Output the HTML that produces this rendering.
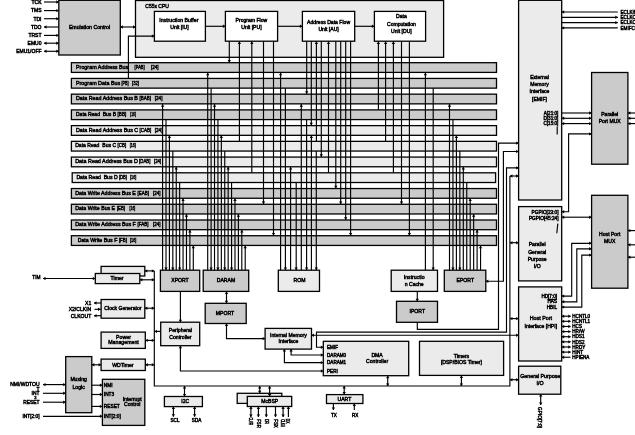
<!DOCTYPE html>
<html><head><meta charset="utf-8"><title>C55x DSP block diagram</title>
<style>
html,body{margin:0;padding:0;background:#fff;}
body{width:635px;height:435px;overflow:hidden;}
svg{display:block;will-change:transform;opacity:0.999;font-family:"Liberation Sans",sans-serif;fill:#000;}
svg text{stroke:#000;stroke-width:0.45px;}
</style></head><body>
<svg width="635" height="435" viewBox="0 0 635 435">
<rect x="0" y="0" width="635" height="435" fill="#fff" stroke="none"/>
<rect x="135.50" y="0.50" width="308.10" height="56.80" fill="#ebebeb" stroke="#000" stroke-width="1.3"/>
<rect x="71.40" y="62.70" width="425.10" height="9.70" fill="#cbcbcb" stroke="#000" stroke-width="1.3"/>
<text x="76.00" y="68.81" font-size="5.3" textLength="52.30" lengthAdjust="spacingAndGlyphs" xml:space="preserve">Program Address Bus</text>
<text x="134.60" y="68.81" font-size="5.3" textLength="10.10" lengthAdjust="spacingAndGlyphs" xml:space="preserve">[PAB]</text>
<text x="151.00" y="68.81" font-size="5.3" textLength="7.60" lengthAdjust="spacingAndGlyphs" xml:space="preserve">[24]</text>
<rect x="71.40" y="78.43" width="425.10" height="9.70" fill="#cbcbcb" stroke="#000" stroke-width="1.3"/>
<text x="76.00" y="84.54" font-size="5.3" textLength="44.20" lengthAdjust="spacingAndGlyphs" xml:space="preserve">Program Data Bus</text>
<text x="121.40" y="84.54" font-size="5.3" textLength="7.10" lengthAdjust="spacingAndGlyphs" xml:space="preserve">[PB]</text>
<text x="132.00" y="84.54" font-size="5.3" textLength="6.90" lengthAdjust="spacingAndGlyphs" xml:space="preserve">[32]</text>
<rect x="71.40" y="94.16" width="425.10" height="9.70" fill="#cbcbcb" stroke="#000" stroke-width="1.3"/>
<text x="76.00" y="100.27" font-size="5.3" textLength="61.90" lengthAdjust="spacingAndGlyphs" xml:space="preserve">Data Read Address Bus B</text>
<text x="139.60" y="100.27" font-size="5.3" textLength="11.40" lengthAdjust="spacingAndGlyphs" xml:space="preserve">[BAB]</text>
<text x="154.80" y="100.27" font-size="5.3" textLength="7.60" lengthAdjust="spacingAndGlyphs" xml:space="preserve">[24]</text>
<rect x="71.40" y="109.89" width="425.10" height="9.70" fill="#cbcbcb" stroke="#000" stroke-width="1.3"/>
<text x="76.00" y="116.00" font-size="5.3" textLength="40.10" lengthAdjust="spacingAndGlyphs" xml:space="preserve">Data Read  Bus B</text>
<text x="117.60" y="116.00" font-size="5.3" textLength="8.60" lengthAdjust="spacingAndGlyphs" xml:space="preserve">[BB]</text>
<text x="130.30" y="116.00" font-size="5.3" textLength="5.50" lengthAdjust="spacingAndGlyphs" xml:space="preserve">[16]</text>
<rect x="71.40" y="125.62" width="425.10" height="9.70" fill="#ebebeb" stroke="#000" stroke-width="1.3"/>
<text x="76.00" y="131.73" font-size="5.3" textLength="62.20" lengthAdjust="spacingAndGlyphs" xml:space="preserve">Data Read Address Bus C</text>
<text x="139.60" y="131.73" font-size="5.3" textLength="11.70" lengthAdjust="spacingAndGlyphs" xml:space="preserve">[CAB]</text>
<text x="154.80" y="131.73" font-size="5.3" textLength="7.60" lengthAdjust="spacingAndGlyphs" xml:space="preserve">[24]</text>
<rect x="71.40" y="141.35" width="425.10" height="9.70" fill="#ebebeb" stroke="#000" stroke-width="1.3"/>
<text x="75.20" y="147.46" font-size="5.3" textLength="40.90" lengthAdjust="spacingAndGlyphs" xml:space="preserve">Data Read  Bus C</text>
<text x="117.60" y="147.46" font-size="5.3" textLength="8.60" lengthAdjust="spacingAndGlyphs" xml:space="preserve">[CB]</text>
<text x="129.70" y="147.46" font-size="5.3" textLength="6.10" lengthAdjust="spacingAndGlyphs" xml:space="preserve">[16]</text>
<rect x="71.40" y="157.08" width="425.10" height="9.70" fill="#ebebeb" stroke="#000" stroke-width="1.3"/>
<text x="75.20" y="163.19" font-size="5.3" textLength="62.70" lengthAdjust="spacingAndGlyphs" xml:space="preserve">Data Read Address Bus D</text>
<text x="139.10" y="163.19" font-size="5.3" textLength="11.40" lengthAdjust="spacingAndGlyphs" xml:space="preserve">[DAB]</text>
<text x="154.00" y="163.19" font-size="5.3" textLength="7.10" lengthAdjust="spacingAndGlyphs" xml:space="preserve">[24]</text>
<rect x="72.20" y="172.81" width="423.40" height="9.70" fill="#ebebeb" stroke="#000" stroke-width="1.3"/>
<text x="76.40" y="178.92" font-size="5.3" textLength="41.20" lengthAdjust="spacingAndGlyphs" xml:space="preserve">Data Read  Bus D</text>
<text x="118.90" y="178.92" font-size="5.3" textLength="8.10" lengthAdjust="spacingAndGlyphs" xml:space="preserve">[DB]</text>
<text x="130.00" y="178.92" font-size="5.3" textLength="6.30" lengthAdjust="spacingAndGlyphs" xml:space="preserve">[16]</text>
<rect x="71.40" y="188.54" width="425.10" height="9.70" fill="#cbcbcb" stroke="#000" stroke-width="1.3"/>
<text x="75.20" y="194.65" font-size="5.3" textLength="60.60" lengthAdjust="spacingAndGlyphs" xml:space="preserve">Data Write Address Bus E</text>
<text x="137.60" y="194.65" font-size="5.3" textLength="11.40" lengthAdjust="spacingAndGlyphs" xml:space="preserve">[EAB]</text>
<text x="153.00" y="194.65" font-size="5.3" textLength="7.40" lengthAdjust="spacingAndGlyphs" xml:space="preserve">[24]</text>
<rect x="71.40" y="204.27" width="425.10" height="9.70" fill="#cbcbcb" stroke="#000" stroke-width="1.3"/>
<text x="75.20" y="210.38" font-size="5.3" textLength="39.90" lengthAdjust="spacingAndGlyphs" xml:space="preserve">Data Write Bus E</text>
<text x="116.90" y="210.38" font-size="5.3" textLength="8.10" lengthAdjust="spacingAndGlyphs" xml:space="preserve">[EB]</text>
<text x="129.50" y="210.38" font-size="5.3" textLength="5.80" lengthAdjust="spacingAndGlyphs" xml:space="preserve">[16]</text>
<rect x="71.40" y="220.00" width="425.10" height="9.70" fill="#cbcbcb" stroke="#000" stroke-width="1.3"/>
<text x="75.20" y="226.11" font-size="5.3" textLength="60.60" lengthAdjust="spacingAndGlyphs" xml:space="preserve">Data Write Address Bus F</text>
<text x="137.60" y="226.11" font-size="5.3" textLength="11.00" lengthAdjust="spacingAndGlyphs" xml:space="preserve">[FAB]</text>
<text x="153.00" y="226.11" font-size="5.3" textLength="7.40" lengthAdjust="spacingAndGlyphs" xml:space="preserve">[24]</text>
<rect x="71.40" y="235.73" width="425.10" height="9.70" fill="#cbcbcb" stroke="#000" stroke-width="1.3"/>
<text x="77.70" y="241.84" font-size="5.3" textLength="39.70" lengthAdjust="spacingAndGlyphs" xml:space="preserve">Data Write Bus F</text>
<text x="118.90" y="241.84" font-size="5.3" textLength="8.10" lengthAdjust="spacingAndGlyphs" xml:space="preserve">[FB]</text>
<text x="130.00" y="241.84" font-size="5.3" textLength="6.30" lengthAdjust="spacingAndGlyphs" xml:space="preserve">[16]</text>
<rect x="58.80" y="0.30" width="61.50" height="54.70" fill="#cbcbcb" stroke="#000" stroke-width="1.3"/>
<text x="89.50" y="28.87" font-size="5.2" text-anchor="middle">Emulation Control</text>
<text x="41.50" y="3.80" font-size="5.0" text-anchor="end">TCK</text>
<polyline points="44.00,2.00 58.80,2.00" fill="none" stroke="#000" stroke-width="1.15"/>
<polygon points="58.80,2.00 56.30,0.30 56.30,3.70" fill="#000"/>
<text x="41.50" y="12.40" font-size="5.0" text-anchor="end">TMS</text>
<polyline points="44.00,10.60 58.80,10.60" fill="none" stroke="#000" stroke-width="1.15"/>
<polygon points="58.80,10.60 56.30,8.90 56.30,12.30" fill="#000"/>
<text x="41.50" y="20.50" font-size="5.0" text-anchor="end">TDI</text>
<polyline points="44.00,18.70 58.80,18.70" fill="none" stroke="#000" stroke-width="1.15"/>
<polygon points="58.80,18.70 56.30,17.00 56.30,20.40" fill="#000"/>
<text x="41.50" y="28.80" font-size="5.0" text-anchor="end">TDO</text>
<polyline points="44.00,27.00 58.80,27.00" fill="none" stroke="#000" stroke-width="1.15"/>
<polygon points="44.00,27.00 46.50,25.30 46.50,28.70" fill="#000"/>
<text x="41.50" y="37.20" font-size="5.0" text-anchor="end">TRST</text>
<polyline points="44.00,35.40 58.80,35.40" fill="none" stroke="#000" stroke-width="1.15"/>
<polygon points="58.80,35.40 56.30,33.70 56.30,37.10" fill="#000"/>
<text x="41.50" y="45.00" font-size="5.0" text-anchor="end">EMU0</text>
<polyline points="44.00,43.20 58.80,43.20" fill="none" stroke="#000" stroke-width="1.15"/>
<polygon points="58.80,43.20 56.30,41.50 56.30,44.90" fill="#000"/>
<polygon points="44.00,43.20 46.50,41.50 46.50,44.90" fill="#000"/>
<text x="41.50" y="53.10" font-size="5.0" text-anchor="end">EMU1/OFF</text>
<polyline points="44.00,51.30 58.80,51.30" fill="none" stroke="#000" stroke-width="1.15"/>
<polygon points="58.80,51.30 56.30,49.60 56.30,53.00" fill="#000"/>
<polygon points="44.00,51.30 46.50,49.60 46.50,53.00" fill="#000"/>
<polyline points="120.30,27.00 135.50,27.00" fill="none" stroke="#000" stroke-width="1.15"/>
<polygon points="135.50,27.00 133.00,25.30 133.00,28.70" fill="#000"/>
<polygon points="120.30,27.00 122.80,25.30 122.80,28.70" fill="#000"/>
<text x="145.30" y="7.60" font-size="5.0" text-anchor="start">C55x CPU</text>
<rect x="154.40" y="11.40" width="51.00" height="29.80" fill="#ffffff" stroke="#000" stroke-width="1.3"/>
<text x="178.80" y="21.77" font-size="5.2" text-anchor="middle">Instruction Buffer</text>
<text x="179.50" y="29.14" font-size="5.1" text-anchor="middle">Unit [IU]</text>
<rect x="225.40" y="11.40" width="52.20" height="29.80" fill="#ffffff" stroke="#000" stroke-width="1.3"/>
<text x="251.40" y="21.74" font-size="5.1" text-anchor="middle">Program Flow</text>
<text x="251.40" y="29.44" font-size="5.1" text-anchor="middle">Unit [PU]</text>
<rect x="302.40" y="11.40" width="52.30" height="29.80" fill="#ffffff" stroke="#000" stroke-width="1.3"/>
<text x="328.60" y="23.84" font-size="5.1" text-anchor="middle">Address Data Flow</text>
<text x="328.60" y="31.44" font-size="5.1" text-anchor="middle">Unit [AU]</text>
<rect x="374.40" y="11.40" width="51.20" height="29.80" fill="#ffffff" stroke="#000" stroke-width="1.3"/>
<text x="401.40" y="17.74" font-size="5.1" text-anchor="middle">Data</text>
<text x="401.40" y="25.84" font-size="5.1" text-anchor="middle">Computation</text>
<text x="401.40" y="32.94" font-size="5.1" text-anchor="middle">Unit [DU]</text>
<polyline points="205.40,26.30 225.40,26.30" fill="none" stroke="#000" stroke-width="1.15"/>
<polygon points="225.40,26.30 222.90,24.60 222.90,28.00" fill="#000"/>
<polyline points="277.60,26.30 302.40,26.30" fill="none" stroke="#000" stroke-width="1.15"/>
<polygon points="302.40,26.30 299.90,24.60 299.90,28.00" fill="#000"/>
<polyline points="354.70,26.30 374.40,26.30" fill="none" stroke="#000" stroke-width="1.15"/>
<polygon points="374.40,26.30 371.90,24.60 371.90,28.00" fill="#000"/>
<polyline points="128.40,78.43 128.40,36.10 154.40,36.10" fill="none" stroke="#000" stroke-width="1.15"/>
<polygon points="154.40,36.10 151.90,34.40 151.90,37.80" fill="#000"/>
<polyline points="229.30,41.20 229.30,62.70" fill="none" stroke="#000" stroke-width="1.15"/>
<polygon points="229.30,62.40 227.60,59.90 231.00,59.90" fill="#000"/>
<polyline points="239.40,41.20 239.40,141.35" fill="none" stroke="#000" stroke-width="1.15"/>
<polygon points="239.40,41.50 237.70,44.00 241.10,44.00" fill="#000"/>
<polyline points="251.80,41.20 251.80,172.81" fill="none" stroke="#000" stroke-width="1.15"/>
<polygon points="251.80,41.50 250.10,44.00 253.50,44.00" fill="#000"/>
<polyline points="263.50,41.20 263.50,204.27" fill="none" stroke="#000" stroke-width="1.15"/>
<polygon points="263.50,203.97 261.80,201.47 265.20,201.47" fill="#000"/>
<polyline points="273.50,41.20 273.50,235.73" fill="none" stroke="#000" stroke-width="1.15"/>
<polygon points="273.50,235.43 271.80,232.93 275.20,232.93" fill="#000"/>
<polyline points="306.70,41.20 306.70,94.16" fill="none" stroke="#000" stroke-width="1.15"/>
<polygon points="306.70,93.86 305.00,91.36 308.40,91.36" fill="#000"/>
<polyline points="311.30,41.20 311.30,125.62" fill="none" stroke="#000" stroke-width="1.15"/>
<polygon points="311.30,125.32 309.60,122.82 313.00,122.82" fill="#000"/>
<polyline points="316.40,41.20 316.40,141.35" fill="none" stroke="#000" stroke-width="1.15"/>
<polygon points="316.40,41.50 314.70,44.00 318.10,44.00" fill="#000"/>
<polyline points="321.30,41.20 321.30,157.08" fill="none" stroke="#000" stroke-width="1.15"/>
<polygon points="321.30,156.78 319.60,154.28 323.00,154.28" fill="#000"/>
<polyline points="328.50,41.20 328.50,172.81" fill="none" stroke="#000" stroke-width="1.15"/>
<polygon points="328.50,41.50 326.80,44.00 330.20,44.00" fill="#000"/>
<polyline points="335.80,41.20 335.80,188.54" fill="none" stroke="#000" stroke-width="1.15"/>
<polygon points="335.80,188.24 334.10,185.74 337.50,185.74" fill="#000"/>
<polyline points="340.70,41.20 340.70,204.27" fill="none" stroke="#000" stroke-width="1.15"/>
<polygon points="340.70,203.97 339.00,201.47 342.40,201.47" fill="#000"/>
<polyline points="345.70,41.20 345.70,220.00" fill="none" stroke="#000" stroke-width="1.15"/>
<polygon points="345.70,219.70 344.00,217.20 347.40,217.20" fill="#000"/>
<polyline points="350.60,41.20 350.60,235.73" fill="none" stroke="#000" stroke-width="1.15"/>
<polygon points="350.60,235.43 348.90,232.93 352.30,232.93" fill="#000"/>
<polyline points="378.40,41.20 378.40,109.89" fill="none" stroke="#000" stroke-width="1.15"/>
<polygon points="378.40,41.50 376.70,44.00 380.10,44.00" fill="#000"/>
<polyline points="385.60,41.20 385.60,141.35" fill="none" stroke="#000" stroke-width="1.15"/>
<polygon points="385.60,41.50 383.90,44.00 387.30,44.00" fill="#000"/>
<polyline points="393.40,41.20 393.40,172.81" fill="none" stroke="#000" stroke-width="1.15"/>
<polygon points="393.40,41.50 391.70,44.00 395.10,44.00" fill="#000"/>
<polyline points="401.50,41.20 401.50,204.27" fill="none" stroke="#000" stroke-width="1.15"/>
<polygon points="401.50,203.97 399.80,201.47 403.20,201.47" fill="#000"/>
<polyline points="409.40,41.20 409.40,235.73" fill="none" stroke="#000" stroke-width="1.15"/>
<polygon points="409.40,235.43 407.70,232.93 411.10,232.93" fill="#000"/>
<polyline points="162.60,270.20 162.60,103.86" fill="none" stroke="#000" stroke-width="1.15"/>
<polygon points="162.60,104.16 160.90,106.66 164.30,106.66" fill="#000"/>
<polyline points="166.01,270.20 166.01,119.59" fill="none" stroke="#000" stroke-width="1.15"/>
<polygon points="166.01,269.90 164.31,267.40 167.71,267.40" fill="#000"/>
<polyline points="169.42,270.20 169.42,135.32" fill="none" stroke="#000" stroke-width="1.15"/>
<polygon points="169.42,135.62 167.72,138.12 171.12,138.12" fill="#000"/>
<polyline points="172.83,270.20 172.83,151.05" fill="none" stroke="#000" stroke-width="1.15"/>
<polygon points="172.83,269.90 171.13,267.40 174.53,267.40" fill="#000"/>
<polyline points="176.24,270.20 176.24,166.78" fill="none" stroke="#000" stroke-width="1.15"/>
<polygon points="176.24,167.08 174.54,169.58 177.94,169.58" fill="#000"/>
<polyline points="179.65,270.20 179.65,182.51" fill="none" stroke="#000" stroke-width="1.15"/>
<polygon points="179.65,269.90 177.95,267.40 181.35,267.40" fill="#000"/>
<polyline points="183.06,270.20 183.06,198.24" fill="none" stroke="#000" stroke-width="1.15"/>
<polygon points="183.06,198.54 181.36,201.04 184.76,201.04" fill="#000"/>
<polyline points="186.47,270.20 186.47,213.97" fill="none" stroke="#000" stroke-width="1.15"/>
<polygon points="186.47,214.27 184.77,216.77 188.17,216.77" fill="#000"/>
<polyline points="189.88,270.20 189.88,229.70" fill="none" stroke="#000" stroke-width="1.15"/>
<polygon points="189.88,230.00 188.18,232.50 191.58,232.50" fill="#000"/>
<polyline points="193.29,270.20 193.29,245.43" fill="none" stroke="#000" stroke-width="1.15"/>
<polygon points="193.29,245.73 191.59,248.23 194.99,248.23" fill="#000"/>
<polyline points="207.70,270.20 207.70,72.40" fill="none" stroke="#000" stroke-width="1.15"/>
<polygon points="207.70,72.70 206.00,75.20 209.40,75.20" fill="#000"/>
<polyline points="211.11,270.20 211.11,88.13" fill="none" stroke="#000" stroke-width="1.15"/>
<polygon points="211.11,269.90 209.41,267.40 212.81,267.40" fill="#000"/>
<polyline points="214.52,270.20 214.52,103.86" fill="none" stroke="#000" stroke-width="1.15"/>
<polygon points="214.52,104.16 212.82,106.66 216.22,106.66" fill="#000"/>
<polyline points="217.93,270.20 217.93,119.59" fill="none" stroke="#000" stroke-width="1.15"/>
<polygon points="217.93,269.90 216.23,267.40 219.63,267.40" fill="#000"/>
<polyline points="221.34,270.20 221.34,135.32" fill="none" stroke="#000" stroke-width="1.15"/>
<polygon points="221.34,135.62 219.64,138.12 223.04,138.12" fill="#000"/>
<polyline points="224.75,270.20 224.75,151.05" fill="none" stroke="#000" stroke-width="1.15"/>
<polygon points="224.75,269.90 223.05,267.40 226.45,267.40" fill="#000"/>
<polyline points="228.16,270.20 228.16,166.78" fill="none" stroke="#000" stroke-width="1.15"/>
<polygon points="228.16,167.08 226.46,169.58 229.86,169.58" fill="#000"/>
<polyline points="231.57,270.20 231.57,182.51" fill="none" stroke="#000" stroke-width="1.15"/>
<polygon points="231.57,269.90 229.87,267.40 233.27,267.40" fill="#000"/>
<polyline points="234.98,270.20 234.98,198.24" fill="none" stroke="#000" stroke-width="1.15"/>
<polygon points="234.98,198.54 233.28,201.04 236.68,201.04" fill="#000"/>
<polyline points="238.39,270.20 238.39,213.97" fill="none" stroke="#000" stroke-width="1.15"/>
<polygon points="238.39,214.27 236.69,216.77 240.09,216.77" fill="#000"/>
<polyline points="241.80,270.20 241.80,229.70" fill="none" stroke="#000" stroke-width="1.15"/>
<polygon points="241.80,230.00 240.10,232.50 243.50,232.50" fill="#000"/>
<polyline points="245.21,270.20 245.21,245.43" fill="none" stroke="#000" stroke-width="1.15"/>
<polygon points="245.21,245.73 243.51,248.23 246.91,248.23" fill="#000"/>
<polyline points="280.60,270.20 280.60,72.40" fill="none" stroke="#000" stroke-width="1.15"/>
<polygon points="280.60,72.70 278.90,75.20 282.30,75.20" fill="#000"/>
<polyline points="285.40,270.20 285.40,88.13" fill="none" stroke="#000" stroke-width="1.15"/>
<polygon points="285.40,269.90 283.70,267.40 287.10,267.40" fill="#000"/>
<polyline points="290.60,270.20 290.60,166.78" fill="none" stroke="#000" stroke-width="1.15"/>
<polygon points="290.60,167.08 288.90,169.58 292.30,169.58" fill="#000"/>
<polyline points="296.20,270.20 296.20,182.51" fill="none" stroke="#000" stroke-width="1.15"/>
<polygon points="296.20,269.90 294.50,267.40 297.90,267.40" fill="#000"/>
<polyline points="301.30,270.20 301.30,103.86" fill="none" stroke="#000" stroke-width="1.15"/>
<polygon points="301.30,104.16 299.60,106.66 303.00,106.66" fill="#000"/>
<polyline points="306.60,270.20 306.60,119.59" fill="none" stroke="#000" stroke-width="1.15"/>
<polygon points="306.60,269.90 304.90,267.40 308.30,267.40" fill="#000"/>
<polyline points="311.40,270.20 311.40,135.32" fill="none" stroke="#000" stroke-width="1.15"/>
<polygon points="311.40,135.62 309.70,138.12 313.10,138.12" fill="#000"/>
<polyline points="316.30,270.20 316.30,151.05" fill="none" stroke="#000" stroke-width="1.15"/>
<polygon points="316.30,269.90 314.60,267.40 318.00,267.40" fill="#000"/>
<polyline points="425.40,270.20 425.40,72.40" fill="none" stroke="#000" stroke-width="1.15"/>
<polygon points="425.40,72.70 423.70,75.20 427.10,75.20" fill="#000"/>
<polyline points="433.20,270.20 433.20,88.13" fill="none" stroke="#000" stroke-width="1.15"/>
<polygon points="433.20,269.90 431.50,267.40 434.90,267.40" fill="#000"/>
<polyline points="449.50,270.20 449.50,103.86" fill="none" stroke="#000" stroke-width="1.15"/>
<polygon points="449.50,104.16 447.80,106.66 451.20,106.66" fill="#000"/>
<polyline points="452.95,270.20 452.95,119.59" fill="none" stroke="#000" stroke-width="1.15"/>
<polygon points="452.95,269.90 451.25,267.40 454.65,267.40" fill="#000"/>
<polyline points="456.40,270.20 456.40,135.32" fill="none" stroke="#000" stroke-width="1.15"/>
<polygon points="456.40,135.62 454.70,138.12 458.10,138.12" fill="#000"/>
<polyline points="459.85,270.20 459.85,151.05" fill="none" stroke="#000" stroke-width="1.15"/>
<polygon points="459.85,269.90 458.15,267.40 461.55,267.40" fill="#000"/>
<polyline points="463.30,270.20 463.30,166.78" fill="none" stroke="#000" stroke-width="1.15"/>
<polygon points="463.30,167.08 461.60,169.58 465.00,169.58" fill="#000"/>
<polyline points="466.75,270.20 466.75,182.51" fill="none" stroke="#000" stroke-width="1.15"/>
<polyline points="470.20,270.20 470.20,198.24" fill="none" stroke="#000" stroke-width="1.15"/>
<polygon points="470.20,198.54 468.50,201.04 471.90,201.04" fill="#000"/>
<polyline points="473.65,270.20 473.65,213.97" fill="none" stroke="#000" stroke-width="1.15"/>
<polygon points="473.65,214.27 471.95,216.77 475.35,216.77" fill="#000"/>
<polyline points="477.10,270.20 477.10,229.70" fill="none" stroke="#000" stroke-width="1.15"/>
<polygon points="477.10,230.00 475.40,232.50 478.80,232.50" fill="#000"/>
<polyline points="480.55,270.20 480.55,245.43" fill="none" stroke="#000" stroke-width="1.15"/>
<polygon points="480.55,245.73 478.85,248.23 482.25,248.23" fill="#000"/>
<rect x="160.40" y="270.20" width="39.30" height="21.20" fill="#cbcbcb" stroke="#000" stroke-width="1.3"/>
<text x="180.00" y="282.44" font-size="5.1" text-anchor="middle">XPORT</text>
<rect x="203.20" y="270.20" width="45.50" height="21.20" fill="#cbcbcb" stroke="#000" stroke-width="1.3"/>
<text x="226.00" y="282.44" font-size="5.1" text-anchor="middle">DARAM</text>
<rect x="278.30" y="270.20" width="41.20" height="21.20" fill="#ebebeb" stroke="#000" stroke-width="1.3"/>
<text x="299.50" y="282.44" font-size="5.1" text-anchor="middle">ROM</text>
<rect x="391.20" y="270.20" width="46.30" height="21.20" fill="#ebebeb" stroke="#000" stroke-width="1.3"/>
<text x="414.20" y="279.14" font-size="5.1" text-anchor="middle">Instructio</text>
<text x="414.20" y="285.74" font-size="5.1" text-anchor="middle">n Cache</text>
<rect x="444.30" y="270.20" width="41.50" height="21.20" fill="#cbcbcb" stroke="#000" stroke-width="1.3"/>
<text x="465.30" y="282.24" font-size="5.1" text-anchor="middle">EPORT</text>
<rect x="396.50" y="301.30" width="41.00" height="21.00" fill="#cbcbcb" stroke="#000" stroke-width="1.3"/>
<text x="417.30" y="313.04" font-size="5.1" text-anchor="middle">IPORT</text>
<polyline points="417.30,291.40 417.30,301.30" fill="none" stroke="#000" stroke-width="1.15"/>
<polygon points="417.30,301.30 415.60,298.80 419.00,298.80" fill="#000"/>
<polyline points="417.30,322.30 417.30,329.30 498.50,329.30 498.50,143.10 518.60,143.10" fill="none" stroke="#000" stroke-width="1.15"/>
<polygon points="518.60,143.10 516.10,141.40 516.10,144.80" fill="#000"/>
<polyline points="485.80,281.20 503.40,281.20 503.40,151.50 518.60,151.50" fill="none" stroke="#000" stroke-width="1.15"/>
<polygon points="518.60,151.50 516.10,149.80 516.10,153.20" fill="#000"/>
<polygon points="485.80,281.20 488.30,279.50 488.30,282.90" fill="#000"/>
<polyline points="323.30,347.20 316.50,347.20 316.50,332.10 506.50,332.10 506.50,167.90 518.60,167.90" fill="none" stroke="#000" stroke-width="1.15"/>
<polygon points="518.60,167.90 516.10,166.20 516.10,169.60" fill="#000"/>
<polygon points="323.30,347.20 320.80,345.50 320.80,348.90" fill="#000"/>
<polyline points="154.30,270.90 154.30,386.00 509.90,386.00 509.90,176.00" fill="none" stroke="#000" stroke-width="1.15"/>
<polyline points="509.90,176.00 518.60,176.00" fill="none" stroke="#000" stroke-width="1.15"/>
<polygon points="518.60,176.00 516.10,174.30 516.10,177.70" fill="#000"/>
<polygon points="509.90,176.00 512.40,174.30 512.40,177.70" fill="#000"/>
<polyline points="509.90,242.70 518.60,242.70" fill="none" stroke="#000" stroke-width="1.15"/>
<polygon points="518.60,242.70 516.10,241.00 516.10,244.40" fill="#000"/>
<polygon points="509.90,242.70 512.40,241.00 512.40,244.40" fill="#000"/>
<polyline points="509.90,318.60 518.60,318.60" fill="none" stroke="#000" stroke-width="1.15"/>
<polygon points="518.60,318.60 516.10,316.90 516.10,320.30" fill="#000"/>
<polygon points="509.90,318.60 512.40,316.90 512.40,320.30" fill="#000"/>
<polyline points="509.90,379.70 518.60,379.70" fill="none" stroke="#000" stroke-width="1.15"/>
<polygon points="518.60,379.70 516.10,378.00 516.10,381.40" fill="#000"/>
<polygon points="509.90,379.70 512.40,378.00 512.40,381.40" fill="#000"/>
<polyline points="311.50,335.20 518.60,335.20" fill="none" stroke="#000" stroke-width="1.15"/>
<polygon points="518.60,335.20 516.10,333.50 516.10,336.90" fill="#000"/>
<polygon points="311.50,335.20 314.00,333.50 314.00,336.90" fill="#000"/>
<rect x="518.60" y="0.30" width="43.10" height="199.70" fill="#ebebeb" stroke="#000" stroke-width="1.3"/>
<text x="539.50" y="78.64" font-size="5.1" text-anchor="middle">External</text>
<text x="539.50" y="85.64" font-size="5.1" text-anchor="middle">Memory</text>
<text x="539.50" y="93.04" font-size="5.1" text-anchor="middle">Interface</text>
<text x="539.50" y="101.24" font-size="5.1" text-anchor="middle">[EMIF]</text>
<rect x="518.60" y="206.60" width="43.10" height="74.30" fill="#ebebeb" stroke="#000" stroke-width="1.3"/>
<rect x="518.60" y="286.90" width="43.10" height="74.10" fill="#ebebeb" stroke="#000" stroke-width="1.3"/>
<rect x="518.60" y="366.20" width="42.20" height="28.00" fill="#ebebeb" stroke="#000" stroke-width="1.3"/>
<rect x="591.60" y="72.50" width="36.30" height="91.70" fill="#cbcbcb" stroke="#000" stroke-width="1.3"/>
<text x="609.70" y="115.54" font-size="5.1" text-anchor="middle">Parallel</text>
<text x="609.70" y="122.64" font-size="5.1" text-anchor="middle">Port MUX</text>
<rect x="591.60" y="195.30" width="36.30" height="92.90" fill="#cbcbcb" stroke="#000" stroke-width="1.3"/>
<text x="609.70" y="235.74" font-size="5.1" text-anchor="middle">Host Port</text>
<text x="609.70" y="242.54" font-size="5.1" text-anchor="middle">MUX</text>
<polyline points="561.70,12.00 617.80,12.00" fill="none" stroke="#000" stroke-width="1.15"/>
<polygon points="561.70,12.00 564.20,10.30 564.20,13.70" fill="#000"/>
<text x="620.50" y="13.66" font-size="4.6" text-anchor="start">ECLKIN</text>
<polyline points="561.70,17.30 617.80,17.30" fill="none" stroke="#000" stroke-width="1.15"/>
<polygon points="617.80,17.30 615.30,15.60 615.30,19.00" fill="#000"/>
<text x="620.50" y="18.96" font-size="4.6" text-anchor="start">ECLKOUT1</text>
<polyline points="561.70,22.60 617.80,22.60" fill="none" stroke="#000" stroke-width="1.15"/>
<polygon points="617.80,22.60 615.30,20.90 615.30,24.30" fill="#000"/>
<text x="620.50" y="24.26" font-size="4.6" text-anchor="start">ECLKOUT2</text>
<polyline points="561.70,27.90 617.80,27.90" fill="none" stroke="#000" stroke-width="1.15"/>
<polygon points="561.70,27.90 564.20,26.20 564.20,29.60" fill="#000"/>
<text x="620.50" y="29.56" font-size="4.6" text-anchor="start">EMIFCLKS</text>
<text x="558.30" y="114.66" font-size="4.6" text-anchor="end">A[21:0]</text>
<polyline points="561.70,113.00 591.60,113.00" fill="none" stroke="#000" stroke-width="1.15"/>
<polygon points="591.60,113.00 589.10,111.30 589.10,114.70" fill="#000"/>
<polyline points="627.90,113.00 635.00,113.00" fill="none" stroke="#000" stroke-width="1.15"/>
<polygon points="627.90,113.00 630.40,111.30 630.40,114.70" fill="#000"/>
<text x="558.30" y="119.96" font-size="4.6" text-anchor="end">D[31:0]</text>
<polyline points="561.70,118.30 591.60,118.30" fill="none" stroke="#000" stroke-width="1.15"/>
<polygon points="591.60,118.30 589.10,116.60 589.10,120.00" fill="#000"/>
<polygon points="561.70,118.30 564.20,116.60 564.20,120.00" fill="#000"/>
<polyline points="627.90,118.30 635.00,118.30" fill="none" stroke="#000" stroke-width="1.15"/>
<polygon points="627.90,118.30 630.40,116.60 630.40,120.00" fill="#000"/>
<text x="558.30" y="125.26" font-size="4.6" text-anchor="end">C[15:0]</text>
<polyline points="561.70,123.60 591.60,123.60" fill="none" stroke="#000" stroke-width="1.15"/>
<polygon points="591.60,123.60 589.10,121.90 589.10,125.30" fill="#000"/>
<polygon points="561.70,123.60 564.20,121.90 564.20,125.30" fill="#000"/>
<polyline points="627.90,123.60 635.00,123.60" fill="none" stroke="#000" stroke-width="1.15"/>
<polygon points="627.90,123.60 630.40,121.90 630.40,125.30" fill="#000"/>
<polyline points="557.20,126.50 557.20,134.40" fill="none" stroke="#000" stroke-width="1.15"/>
<polyline points="561.70,211.70 568.60,211.70 568.60,133.90 591.60,133.90" fill="none" stroke="#000" stroke-width="1.15"/>
<polygon points="591.60,133.90 589.10,132.20 589.10,135.60" fill="#000"/>
<polygon points="561.70,211.70 564.20,210.00 564.20,213.40" fill="#000"/>
<text x="558.50" y="214.01" font-size="4.75" text-anchor="end">PGPIO[23:0]</text>
<text x="558.50" y="220.01" font-size="4.75" text-anchor="end">PGPIO[45:24]</text>
<polyline points="561.70,217.20 591.60,217.20" fill="none" stroke="#000" stroke-width="1.15"/>
<polygon points="591.60,217.20 589.10,215.50 589.10,218.90" fill="#000"/>
<polygon points="561.70,217.20 564.20,215.50 564.20,218.90" fill="#000"/>
<polyline points="557.80,223.60 556.80,233.20" fill="none" stroke="#000" stroke-width="1.15"/>
<text x="537.20" y="245.84" font-size="5.1" text-anchor="middle">Parallel</text>
<text x="537.20" y="253.74" font-size="5.1" text-anchor="middle">General</text>
<text x="537.20" y="260.74" font-size="5.1" text-anchor="middle">Purpose</text>
<text x="537.20" y="267.84" font-size="5.1" text-anchor="middle">I/O</text>
<polyline points="561.70,296.10 571.70,296.10 571.70,243.30 591.60,243.30" fill="none" stroke="#000" stroke-width="1.15"/>
<polygon points="591.60,243.30 589.10,241.60 589.10,245.00" fill="#000"/>
<polygon points="561.70,296.10 564.20,294.40 564.20,297.80" fill="#000"/>
<text x="557.00" y="297.76" font-size="4.6" text-anchor="end">HD[7:0]</text>
<polyline points="561.70,301.80 576.80,301.80 576.80,248.80 591.60,248.80" fill="none" stroke="#000" stroke-width="1.15"/>
<polygon points="591.60,248.80 589.10,247.10 589.10,250.50" fill="#000"/>
<polygon points="561.70,301.80 564.20,300.10 564.20,303.50" fill="#000"/>
<text x="557.00" y="303.46" font-size="4.6" text-anchor="end">HAS</text>
<polyline points="561.70,307.10 581.80,307.10 581.80,255.10 591.60,255.10" fill="none" stroke="#000" stroke-width="1.15"/>
<polygon points="591.60,255.10 589.10,253.40 589.10,256.80" fill="#000"/>
<polygon points="561.70,307.10 564.20,305.40 564.20,308.80" fill="#000"/>
<text x="557.00" y="308.76" font-size="4.6" text-anchor="end">HBIL</text>
<polyline points="547.50,299.40 556.80,299.40" fill="none" stroke="#000" stroke-width="1.15"/>
<polyline points="627.90,230.60 635.00,230.60" fill="none" stroke="#000" stroke-width="1.15"/>
<polygon points="627.90,230.60 630.40,228.90 630.40,232.30" fill="#000"/>
<polyline points="627.90,244.80 635.00,244.80" fill="none" stroke="#000" stroke-width="1.15"/>
<polygon points="627.90,244.80 630.40,243.10 630.40,246.50" fill="#000"/>
<polyline points="627.90,257.20 635.00,257.20" fill="none" stroke="#000" stroke-width="1.15"/>
<polygon points="627.90,257.20 630.40,255.50 630.40,258.90" fill="#000"/>
<text x="540.80" y="319.93" font-size="5.35" text-anchor="middle">Host Port</text>
<text x="540.80" y="327.64" font-size="5.1" text-anchor="middle">Interface [HPI]</text>
<polyline points="561.70,316.20 570.50,316.20" fill="none" stroke="#000" stroke-width="1.15"/>
<polygon points="561.70,316.20 564.20,314.50 564.20,317.90" fill="#000"/>
<polygon points="570.80,316.20 568.30,314.50 568.30,317.90" fill="#000"/>
<text x="572.30" y="317.86" font-size="4.6" text-anchor="start">HCNTL0</text>
<polyline points="561.70,321.33 570.50,321.33" fill="none" stroke="#000" stroke-width="1.15"/>
<polygon points="561.70,321.33 564.20,319.63 564.20,323.03" fill="#000"/>
<polygon points="570.80,321.33 568.30,319.63 568.30,323.03" fill="#000"/>
<text x="572.30" y="322.99" font-size="4.6" text-anchor="start">HCNTL1</text>
<polyline points="561.70,326.46 570.50,326.46" fill="none" stroke="#000" stroke-width="1.15"/>
<polygon points="561.70,326.46 564.20,324.76 564.20,328.16" fill="#000"/>
<polygon points="570.80,326.46 568.30,324.76 568.30,328.16" fill="#000"/>
<text x="572.30" y="328.12" font-size="4.6" text-anchor="start">HCS</text>
<polyline points="561.70,331.59 570.50,331.59" fill="none" stroke="#000" stroke-width="1.15"/>
<polygon points="561.70,331.59 564.20,329.89 564.20,333.29" fill="#000"/>
<polygon points="570.80,331.59 568.30,329.89 568.30,333.29" fill="#000"/>
<text x="572.30" y="333.25" font-size="4.6" text-anchor="start">HR/W</text>
<polyline points="561.70,336.72 570.50,336.72" fill="none" stroke="#000" stroke-width="1.15"/>
<polygon points="561.70,336.72 564.20,335.02 564.20,338.42" fill="#000"/>
<polygon points="570.80,336.72 568.30,335.02 568.30,338.42" fill="#000"/>
<text x="572.30" y="338.38" font-size="4.6" text-anchor="start">HDS1</text>
<polyline points="561.70,341.85 570.50,341.85" fill="none" stroke="#000" stroke-width="1.15"/>
<polygon points="561.70,341.85 564.20,340.15 564.20,343.55" fill="#000"/>
<polygon points="570.80,341.85 568.30,340.15 568.30,343.55" fill="#000"/>
<text x="572.30" y="343.51" font-size="4.6" text-anchor="start">HDS2</text>
<polyline points="561.70,346.98 570.50,346.98" fill="none" stroke="#000" stroke-width="1.15"/>
<polygon points="561.70,346.98 564.20,345.28 564.20,348.68" fill="#000"/>
<polygon points="570.80,346.98 568.30,345.28 568.30,348.68" fill="#000"/>
<text x="572.30" y="348.64" font-size="4.6" text-anchor="start">HRDY</text>
<polyline points="561.70,352.11 570.50,352.11" fill="none" stroke="#000" stroke-width="1.15"/>
<polygon points="561.70,352.11 564.20,350.41 564.20,353.81" fill="#000"/>
<polygon points="570.80,352.11 568.30,350.41 568.30,353.81" fill="#000"/>
<text x="572.30" y="353.77" font-size="4.6" text-anchor="start">HINT</text>
<polyline points="561.70,357.24 570.50,357.24" fill="none" stroke="#000" stroke-width="1.15"/>
<polygon points="561.70,357.24 564.20,355.54 564.20,358.94" fill="#000"/>
<text x="572.30" y="358.90" font-size="4.6" text-anchor="start">HPIENA</text>
<text x="540.20" y="378.21" font-size="5.3" text-anchor="middle">General Purpose</text>
<text x="540.00" y="385.01" font-size="5.3" text-anchor="middle">I/O</text>
<polyline points="540.70,394.00 540.70,405.00" fill="none" stroke="#000" stroke-width="1.15"/>
<polygon points="540.70,394.00 539.00,396.50 542.40,396.50" fill="#000"/>
<polygon points="540.70,405.00 539.00,402.50 542.40,402.50" fill="#000"/>
<text x="540.00" y="419.19" font-size="4.7" text-anchor="middle" transform="rotate(90 540.00 417.50)">GPIO[7:0]</text>
<rect x="419.50" y="341.30" width="84.10" height="34.10" fill="#ebebeb" stroke="#000" stroke-width="1.3"/>
<text x="461.40" y="358.14" font-size="5.1" text-anchor="middle">Timers</text>
<text x="461.40" y="364.34" font-size="5.1" text-anchor="middle">[DSP/BIOS Timer]</text>
<polyline points="461.40,375.40 461.40,386.00" fill="none" stroke="#000" stroke-width="1.15"/>
<polygon points="461.40,375.40 459.70,377.90 463.10,377.90" fill="#000"/>
<polygon points="461.40,386.00 459.70,383.50 463.10,383.50" fill="#000"/>
<rect x="323.30" y="341.30" width="85.40" height="34.40" fill="#ebebeb" stroke="#000" stroke-width="1.3"/>
<text x="377.10" y="356.84" font-size="5.1" text-anchor="middle">DMA</text>
<text x="377.10" y="363.14" font-size="5.1" text-anchor="middle">Controller</text>
<text x="327.00" y="348.76" font-size="4.6" text-anchor="start">EMIF</text>
<text x="327.00" y="356.66" font-size="4.6" text-anchor="start">DARAM0</text>
<text x="327.00" y="364.26" font-size="4.6" text-anchor="start">DARAM1</text>
<text x="327.00" y="372.76" font-size="4.6" text-anchor="start">PERI</text>
<polyline points="387.70,375.70 387.70,386.00" fill="none" stroke="#000" stroke-width="1.15"/>
<polygon points="387.70,375.70 386.00,378.20 389.40,378.20" fill="#000"/>
<polygon points="387.70,386.00 386.00,383.50 389.40,383.50" fill="#000"/>
<rect x="265.10" y="328.40" width="46.40" height="20.70" fill="#ebebeb" stroke="#000" stroke-width="1.3"/>
<text x="288.40" y="337.04" font-size="5.1" text-anchor="middle">Internal Memory</text>
<text x="288.40" y="343.04" font-size="5.1" text-anchor="middle">Interface</text>
<polyline points="323.30,355.00 291.10,355.00 291.10,349.10" fill="none" stroke="#000" stroke-width="1.15"/>
<polygon points="291.10,349.10 289.40,351.60 292.80,351.60" fill="#000"/>
<polygon points="323.30,355.00 320.80,353.30 320.80,356.70" fill="#000"/>
<polyline points="323.30,362.60 284.40,362.60 284.40,349.10" fill="none" stroke="#000" stroke-width="1.15"/>
<polygon points="284.40,349.10 282.70,351.60 286.10,351.60" fill="#000"/>
<polygon points="323.30,362.60 320.80,360.90 320.80,364.30" fill="#000"/>
<rect x="205.20" y="303.30" width="41.00" height="20.20" fill="#cbcbcb" stroke="#000" stroke-width="1.3"/>
<text x="225.00" y="314.84" font-size="5.1" text-anchor="middle">MPORT</text>
<polyline points="226.50,291.40 226.50,303.30" fill="none" stroke="#000" stroke-width="1.15"/>
<polygon points="226.50,291.40 224.80,293.90 228.20,293.90" fill="#000"/>
<polygon points="226.50,303.30 224.80,300.80 228.20,300.80" fill="#000"/>
<polyline points="226.50,323.50 226.50,338.60 265.10,338.60" fill="none" stroke="#000" stroke-width="1.15"/>
<polygon points="226.50,323.50 224.80,326.00 228.20,326.00" fill="#000"/>
<polygon points="265.10,338.60 262.60,336.90 262.60,340.30" fill="#000"/>
<rect x="160.70" y="322.20" width="39.00" height="23.50" fill="#ebebeb" stroke="#000" stroke-width="1.3"/>
<text x="180.40" y="331.84" font-size="5.1" text-anchor="middle">Peripheral</text>
<text x="180.40" y="338.74" font-size="5.1" text-anchor="middle">Controller</text>
<polyline points="180.40,291.40 180.40,322.20" fill="none" stroke="#000" stroke-width="1.15"/>
<polygon points="180.40,322.20 178.70,319.70 182.10,319.70" fill="#000"/>
<polyline points="154.30,331.40 160.70,331.40" fill="none" stroke="#000" stroke-width="1.15"/>
<polygon points="154.50,331.40 157.00,329.70 157.00,333.10" fill="#000"/>
<polyline points="180.40,345.70 180.40,371.00 323.30,371.00" fill="none" stroke="#000" stroke-width="1.15"/>
<polygon points="180.40,345.70 178.70,348.20 182.10,348.20" fill="#000"/>
<polygon points="323.30,371.00 320.80,369.30 320.80,372.70" fill="#000"/>
<rect x="101.10" y="266.40" width="43.70" height="9.60" fill="#ebebeb" stroke="#000" stroke-width="1.3"/>
<rect x="95.30" y="273.50" width="44.50" height="10.10" fill="#ebebeb" stroke="#000" stroke-width="1.3"/>
<text x="117.00" y="280.14" font-size="5.1" text-anchor="middle">Timer</text>
<text x="40.50" y="279.13" font-size="4.8" text-anchor="end">TIM</text>
<polyline points="43.00,278.50 95.30,278.50" fill="none" stroke="#000" stroke-width="1.15"/>
<polygon points="43.00,278.50 45.50,276.80 45.50,280.20" fill="#000"/>
<polygon points="95.30,278.50 92.80,276.80 92.80,280.20" fill="#000"/>
<polyline points="144.80,270.90 154.30,270.90" fill="none" stroke="#000" stroke-width="1.15"/>
<polygon points="144.80,270.90 147.30,269.20 147.30,272.60" fill="#000"/>
<polygon points="154.30,270.90 151.80,269.20 151.80,272.60" fill="#000"/>
<polyline points="139.80,279.80 154.30,279.80" fill="none" stroke="#000" stroke-width="1.15"/>
<polygon points="139.80,279.80 142.30,278.10 142.30,281.50" fill="#000"/>
<polygon points="154.30,279.80 151.80,278.10 151.80,281.50" fill="#000"/>
<rect x="101.10" y="299.50" width="43.70" height="18.70" fill="#ebebeb" stroke="#000" stroke-width="1.3"/>
<text x="122.90" y="310.04" font-size="5.1" text-anchor="middle">Clock Generator</text>
<polyline points="144.80,308.20 154.30,308.20" fill="none" stroke="#000" stroke-width="1.15"/>
<polygon points="144.80,308.20 147.30,306.50 147.30,309.90" fill="#000"/>
<polygon points="154.30,308.20 151.80,306.50 151.80,309.90" fill="#000"/>
<text x="91.30" y="304.84" font-size="5.1" text-anchor="end">X1</text>
<text x="91.30" y="311.14" font-size="5.1" text-anchor="end">X2/CLKIN</text>
<text x="91.30" y="317.54" font-size="5.1" text-anchor="end">CLKOUT</text>
<polyline points="94.00,303.00 101.10,303.00" fill="none" stroke="#000" stroke-width="1.15"/>
<polygon points="94.00,303.00 96.50,301.30 96.50,304.70" fill="#000"/>
<polyline points="94.50,309.30 101.10,309.30" fill="none" stroke="#000" stroke-width="1.15"/>
<polygon points="100.50,309.30 98.00,307.60 98.00,311.00" fill="#000"/>
<polyline points="94.00,315.70 101.10,315.70" fill="none" stroke="#000" stroke-width="1.15"/>
<polygon points="94.00,315.70 96.50,314.00 96.50,317.40" fill="#000"/>
<rect x="101.10" y="332.10" width="44.20" height="16.30" fill="#ebebeb" stroke="#000" stroke-width="1.3"/>
<text x="123.50" y="339.19" font-size="5.25" text-anchor="middle">Power</text>
<text x="123.50" y="344.29" font-size="5.25" text-anchor="middle">Management</text>
<polyline points="145.30,340.40 154.30,340.40" fill="none" stroke="#000" stroke-width="1.15"/>
<polygon points="145.30,340.40 147.80,338.70 147.80,342.10" fill="#000"/>
<polygon points="154.30,340.40 151.80,338.70 151.80,342.10" fill="#000"/>
<rect x="101.10" y="359.10" width="44.20" height="11.40" fill="#ebebeb" stroke="#000" stroke-width="1.3"/>
<text x="122.80" y="366.64" font-size="5.1" text-anchor="middle">WDTimer</text>
<polyline points="145.30,364.80 154.30,364.80" fill="none" stroke="#000" stroke-width="1.15"/>
<polygon points="145.30,364.80 147.80,363.10 147.80,366.50" fill="#000"/>
<polygon points="154.30,364.80 151.80,363.10 151.80,366.50" fill="#000"/>
<polyline points="91.80,364.80 101.10,364.80" fill="none" stroke="#000" stroke-width="1.15"/>
<polygon points="91.80,364.80 94.30,363.10 94.30,366.50" fill="#000"/>
<polygon points="101.10,364.80 98.60,363.10 98.60,366.50" fill="#000"/>
<rect x="65.70" y="356.60" width="26.10" height="56.10" fill="#cbcbcb" stroke="#000" stroke-width="1.3"/>
<text x="78.60" y="381.14" font-size="5.1" text-anchor="middle">Muxing</text>
<text x="78.60" y="388.74" font-size="5.1" text-anchor="middle">Logic</text>
<rect x="102.40" y="379.30" width="42.40" height="46.10" fill="#cbcbcb" stroke="#000" stroke-width="1.3"/>
<text x="132.20" y="400.84" font-size="5.1" text-anchor="middle">Interrupt</text>
<text x="132.20" y="406.04" font-size="5.1" text-anchor="middle">Control</text>
<text x="103.80" y="386.93" font-size="4.8" text-anchor="start">NMI</text>
<text x="103.80" y="396.23" font-size="4.8" text-anchor="start">INT3</text>
<text x="103.80" y="408.13" font-size="4.8" text-anchor="start">RESET</text>
<text x="103.80" y="417.73" font-size="4.8" text-anchor="start">INT[2:0]</text>
<polyline points="91.80,385.20 102.40,385.20" fill="none" stroke="#000" stroke-width="1.15"/>
<polygon points="102.40,385.20 99.90,383.50 99.90,386.90" fill="#000"/>
<polyline points="91.80,394.50 102.40,394.50" fill="none" stroke="#000" stroke-width="1.15"/>
<polygon points="102.40,394.50 99.90,392.80 99.90,396.20" fill="#000"/>
<polyline points="91.80,406.40 102.40,406.40" fill="none" stroke="#000" stroke-width="1.15"/>
<polygon points="102.40,406.40 99.90,404.70 99.90,408.10" fill="#000"/>
<text x="39.50" y="386.10" font-size="5.0" text-anchor="end">NMI/WDTOU</text>
<text x="39.50" y="391.00" font-size="5.0" text-anchor="end">T</text>
<text x="39.50" y="395.36" font-size="4.9" text-anchor="end">INT</text>
<text x="36.50" y="399.04" font-size="4.0" text-anchor="end">3</text>
<text x="39.50" y="404.06" font-size="4.9" text-anchor="end">RESET</text>
<polyline points="43.00,384.60 65.70,384.60" fill="none" stroke="#000" stroke-width="1.15"/>
<polygon points="43.00,384.60 45.50,382.90 45.50,386.30" fill="#000"/>
<polygon points="65.70,384.60 63.20,382.90 63.20,386.30" fill="#000"/>
<polyline points="43.00,393.30 65.70,393.30" fill="none" stroke="#000" stroke-width="1.15"/>
<polygon points="65.70,393.30 63.20,391.60 63.20,395.00" fill="#000"/>
<polyline points="43.00,402.20 65.70,402.20" fill="none" stroke="#000" stroke-width="1.15"/>
<polygon points="65.70,402.20 63.20,400.50 63.20,403.90" fill="#000"/>
<text x="39.50" y="417.73" font-size="4.8" text-anchor="end">INT[2:0]</text>
<polyline points="43.00,416.30 102.40,416.30" fill="none" stroke="#000" stroke-width="1.15"/>
<polygon points="102.40,416.30 99.90,414.60 99.90,418.00" fill="#000"/>
<rect x="164.40" y="396.50" width="38.00" height="10.10" fill="#ebebeb" stroke="#000" stroke-width="1.3"/>
<text x="185.30" y="403.44" font-size="5.1" text-anchor="middle">I2C</text>
<polyline points="184.50,386.00 184.50,396.50" fill="none" stroke="#000" stroke-width="1.15"/>
<polygon points="184.50,386.00 182.80,388.50 186.20,388.50" fill="#000"/>
<polygon points="184.50,396.50 182.80,394.00 186.20,394.00" fill="#000"/>
<polyline points="173.40,406.60 173.40,416.70" fill="none" stroke="#000" stroke-width="1.15"/>
<polygon points="173.40,406.60 171.70,409.10 175.10,409.10" fill="#000"/>
<polygon points="173.40,416.70 171.70,414.20 175.10,414.20" fill="#000"/>
<text x="175.00" y="422.36" font-size="4.6" text-anchor="middle">SCL</text>
<polyline points="194.60,406.60 194.60,416.70" fill="none" stroke="#000" stroke-width="1.15"/>
<polygon points="194.60,406.60 192.90,409.10 196.30,409.10" fill="#000"/>
<polygon points="194.60,416.70 192.90,414.20 196.30,414.20" fill="#000"/>
<text x="196.60" y="422.36" font-size="4.6" text-anchor="middle">SDA</text>
<rect x="237.20" y="393.30" width="44.60" height="10.10" fill="#ebebeb" stroke="#000" stroke-width="1.3"/>
<rect x="247.30" y="396.40" width="44.40" height="10.10" fill="#ebebeb" stroke="#000" stroke-width="1.3"/>
<text x="269.70" y="403.34" font-size="5.1" text-anchor="middle">McBSP</text>
<polyline points="259.70,386.00 259.70,393.30" fill="none" stroke="#000" stroke-width="1.15"/>
<polygon points="259.70,386.00 258.00,388.50 261.40,388.50" fill="#000"/>
<polygon points="259.70,393.30 258.00,390.80 261.40,390.80" fill="#000"/>
<polyline points="269.60,386.00 269.60,396.40" fill="none" stroke="#000" stroke-width="1.15"/>
<polygon points="269.60,386.00 267.90,388.50 271.30,388.50" fill="#000"/>
<polygon points="269.60,396.40 267.90,393.90 271.30,393.90" fill="#000"/>
<polyline points="250.90,406.50 250.90,417.00" fill="none" stroke="#000" stroke-width="1.15"/>
<polygon points="250.90,406.50 249.20,409.00 252.60,409.00" fill="#000"/>
<polygon points="250.90,417.00 249.20,414.50 252.60,414.50" fill="#000"/>
<text font-size="5" textLength="7.4" lengthAdjust="spacingAndGlyphs" transform="translate(249.10 417.60) rotate(90)">CLKR</text>
<polyline points="258.40,406.50 258.40,417.00" fill="none" stroke="#000" stroke-width="1.15"/>
<polygon points="258.40,406.50 256.70,409.00 260.10,409.00" fill="#000"/>
<polygon points="258.40,417.00 256.70,414.50 260.10,414.50" fill="#000"/>
<text font-size="5" textLength="8.6" lengthAdjust="spacingAndGlyphs" transform="translate(256.60 419.20) rotate(90)">FSR</text>
<polyline points="266.30,406.50 266.30,417.00" fill="none" stroke="#000" stroke-width="1.15"/>
<polygon points="266.30,417.00 264.60,414.50 268.00,414.50" fill="#000"/>
<text font-size="5" textLength="4.6" lengthAdjust="spacingAndGlyphs" transform="translate(264.50 419.20) rotate(90)">DR</text>
<polyline points="275.50,406.50 275.50,417.00" fill="none" stroke="#000" stroke-width="1.15"/>
<polygon points="275.50,417.00 273.80,414.50 277.20,414.50" fill="#000"/>
<text font-size="5" textLength="8.6" lengthAdjust="spacingAndGlyphs" transform="translate(273.70 419.20) rotate(90)">FSX</text>
<polyline points="283.10,406.50 283.10,417.00" fill="none" stroke="#000" stroke-width="1.15"/>
<polygon points="283.10,406.50 281.40,409.00 284.80,409.00" fill="#000"/>
<polygon points="283.10,417.00 281.40,414.50 284.80,414.50" fill="#000"/>
<text font-size="5" textLength="7.8" lengthAdjust="spacingAndGlyphs" transform="translate(281.00 419.20) rotate(90)">CLKX</text>
<polyline points="288.40,406.50 288.40,417.00" fill="none" stroke="#000" stroke-width="1.15"/>
<polygon points="288.40,406.50 286.70,409.00 290.10,409.00" fill="#000"/>
<text font-size="5" textLength="4.6" lengthAdjust="spacingAndGlyphs" transform="translate(286.40 418.80) rotate(90)">DX</text>
<rect x="326.50" y="394.60" width="36.40" height="8.90" fill="#ebebeb" stroke="#000" stroke-width="1.3"/>
<text x="344.40" y="401.04" font-size="5.1" text-anchor="middle">UART</text>
<polyline points="344.20,386.00 344.20,394.60" fill="none" stroke="#000" stroke-width="1.15"/>
<polygon points="344.20,386.00 342.50,388.50 345.90,388.50" fill="#000"/>
<polygon points="344.20,394.60 342.50,392.10 345.90,392.10" fill="#000"/>
<polyline points="333.40,403.50 333.40,410.00" fill="none" stroke="#000" stroke-width="1.15"/>
<polygon points="333.40,410.00 331.70,407.50 335.10,407.50" fill="#000"/>
<text x="334.00" y="417.06" font-size="4.6" text-anchor="middle">TX</text>
<polyline points="354.30,403.50 354.30,410.00" fill="none" stroke="#000" stroke-width="1.15"/>
<polygon points="354.30,403.50 352.60,406.00 356.00,406.00" fill="#000"/>
<text x="355.10" y="417.06" font-size="4.6" text-anchor="middle">RX</text>
</svg>
</body></html>
